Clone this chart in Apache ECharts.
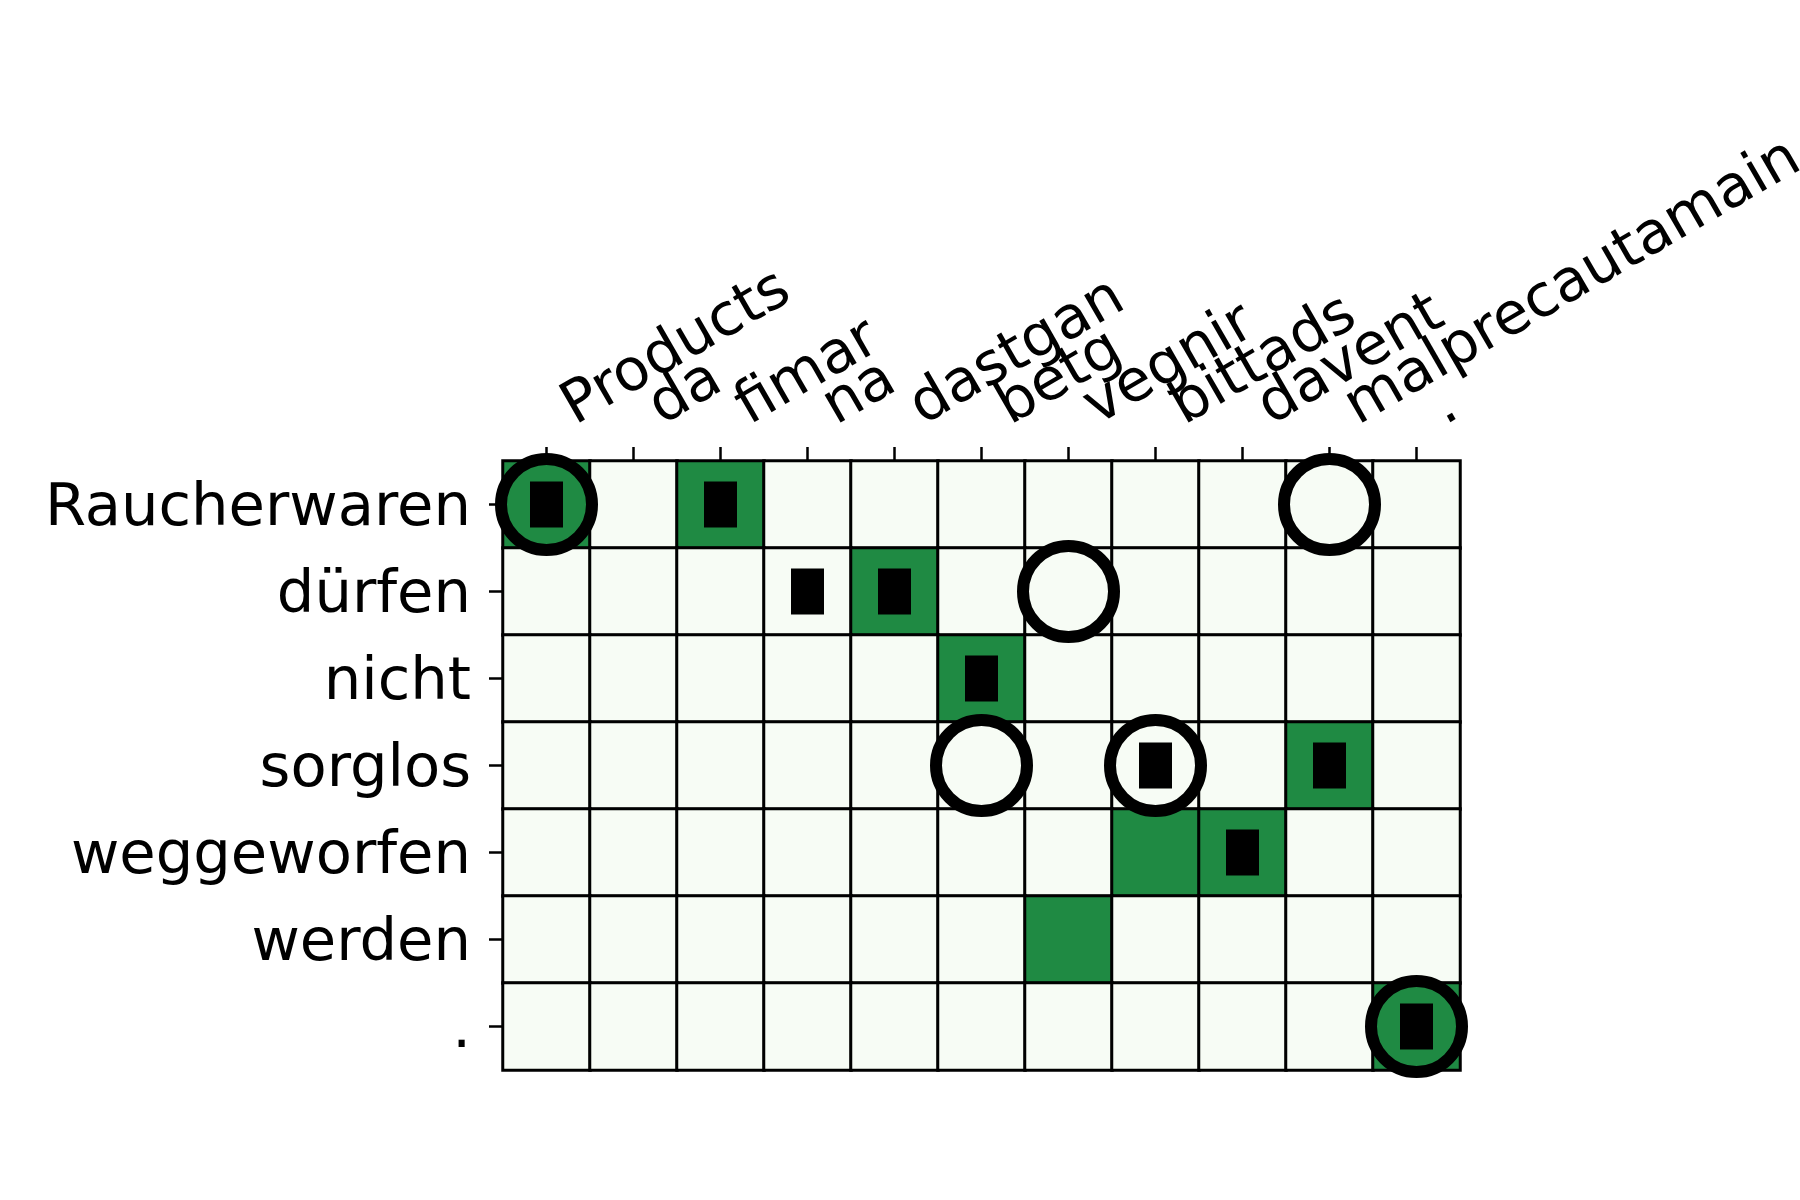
<!DOCTYPE html>
<html>
<head>
<meta charset="utf-8">
<script src="https://cdn.jsdelivr.net/npm/echarts@6/dist/echarts.min.js"></script>
<style>
html,body{margin:0;padding:0;background:#fff;}
#c{width:1800px;height:1200px;}
</style>
</head>
<body>
<div id="c"></div>
<script>
const xLabels = ['Products','da','fimar','na','dastgan','betg','vegnir','bittads','davent','malprecautamain','.'];
const yLabels = ['Raucherwaren','dürfen','nicht','sorglos','weggeworfen','werden','.'];
// alignment matrix (rows = yLabels, cols = xLabels), 1 = green
const cellValues = [
  [1,0,1,0,0,0,0,0,0,0,0],
  [0,0,0,0,1,0,0,0,0,0,0],
  [0,0,0,0,0,1,0,0,0,0,0],
  [0,0,0,0,0,0,0,0,0,1,0],
  [0,0,0,0,0,0,0,1,1,0,0],
  [0,0,0,0,0,0,1,0,0,0,0],
  [0,0,0,0,0,0,0,0,0,0,1]
];
// [col, row] of black rectangles
const rectCells = [[0,0],[2,0],[3,1],[4,1],[5,2],[7,3],[9,3],[8,4],[10,6]];
// [col, row] of black rings
const circleCells = [[0,0],[9,0],[6,1],[5,3],[7,3],[10,6]];

const heatData = [];
cellValues.forEach((row, r) => row.forEach((v, c) => heatData.push([c, r, v])));

const chart = echarts.init(document.getElementById('c'), null, {renderer: 'canvas'});
const font = 'DejaVu Sans';
chart.setOption({
  animation: false,
  backgroundColor: '#ffffff',
  grid: {left: 503, top: 461, width: 957, height: 609, containLabel: false, outerBoundsMode: 'none'},
  xAxis: {
    type: 'category', data: xLabels, position: 'top',
    axisLine: {show: false},
    axisTick: {show: true, alignWithLabel: true, length: 14, lineStyle: {color: '#000', width: 2.5}},
    axisLabel: {rotate: -30, fontFamily: font, fontSize: 58.5, color: '#000', margin: 37, interval: 0,
      padding: [0, 0, 0, 24]},
    splitLine: {show: false}
  },
  yAxis: {
    type: 'category', data: yLabels, inverse: true,
    axisLine: {show: false},
    axisTick: {show: true, alignWithLabel: true, length: 14, lineStyle: {color: '#000', width: 2.5}},
    axisLabel: {fontFamily: font, fontSize: 59.2, color: '#000', margin: 32, interval: 0,
      verticalAlign: 'top', lineHeight: 10},
    splitLine: {show: false}
  },
  visualMap: {
    show: false, type: 'continuous', min: 0, max: 1, dimension: 2, seriesIndex: 0,
    inRange: {color: ['#f7fcf5', '#1f8a43']}
  },
  series: [
    {
      type: 'heatmap', data: heatData,
      itemStyle: {borderColor: '#000', borderWidth: 3},
      emphasis: {disabled: true}
    },
    {
      type: 'scatter', data: rectCells, symbol: 'rect', symbolSize: [33, 46],
      itemStyle: {color: '#000', opacity: 1}, z: 3
    },
    {
      type: 'scatter', data: circleCells, symbol: 'circle', symbolSize: 91,
      itemStyle: {color: 'rgba(0,0,0,0)', borderColor: '#000', borderWidth: 12, opacity: 1}, z: 4
    }
  ]
});
</script>
</body>
</html>
